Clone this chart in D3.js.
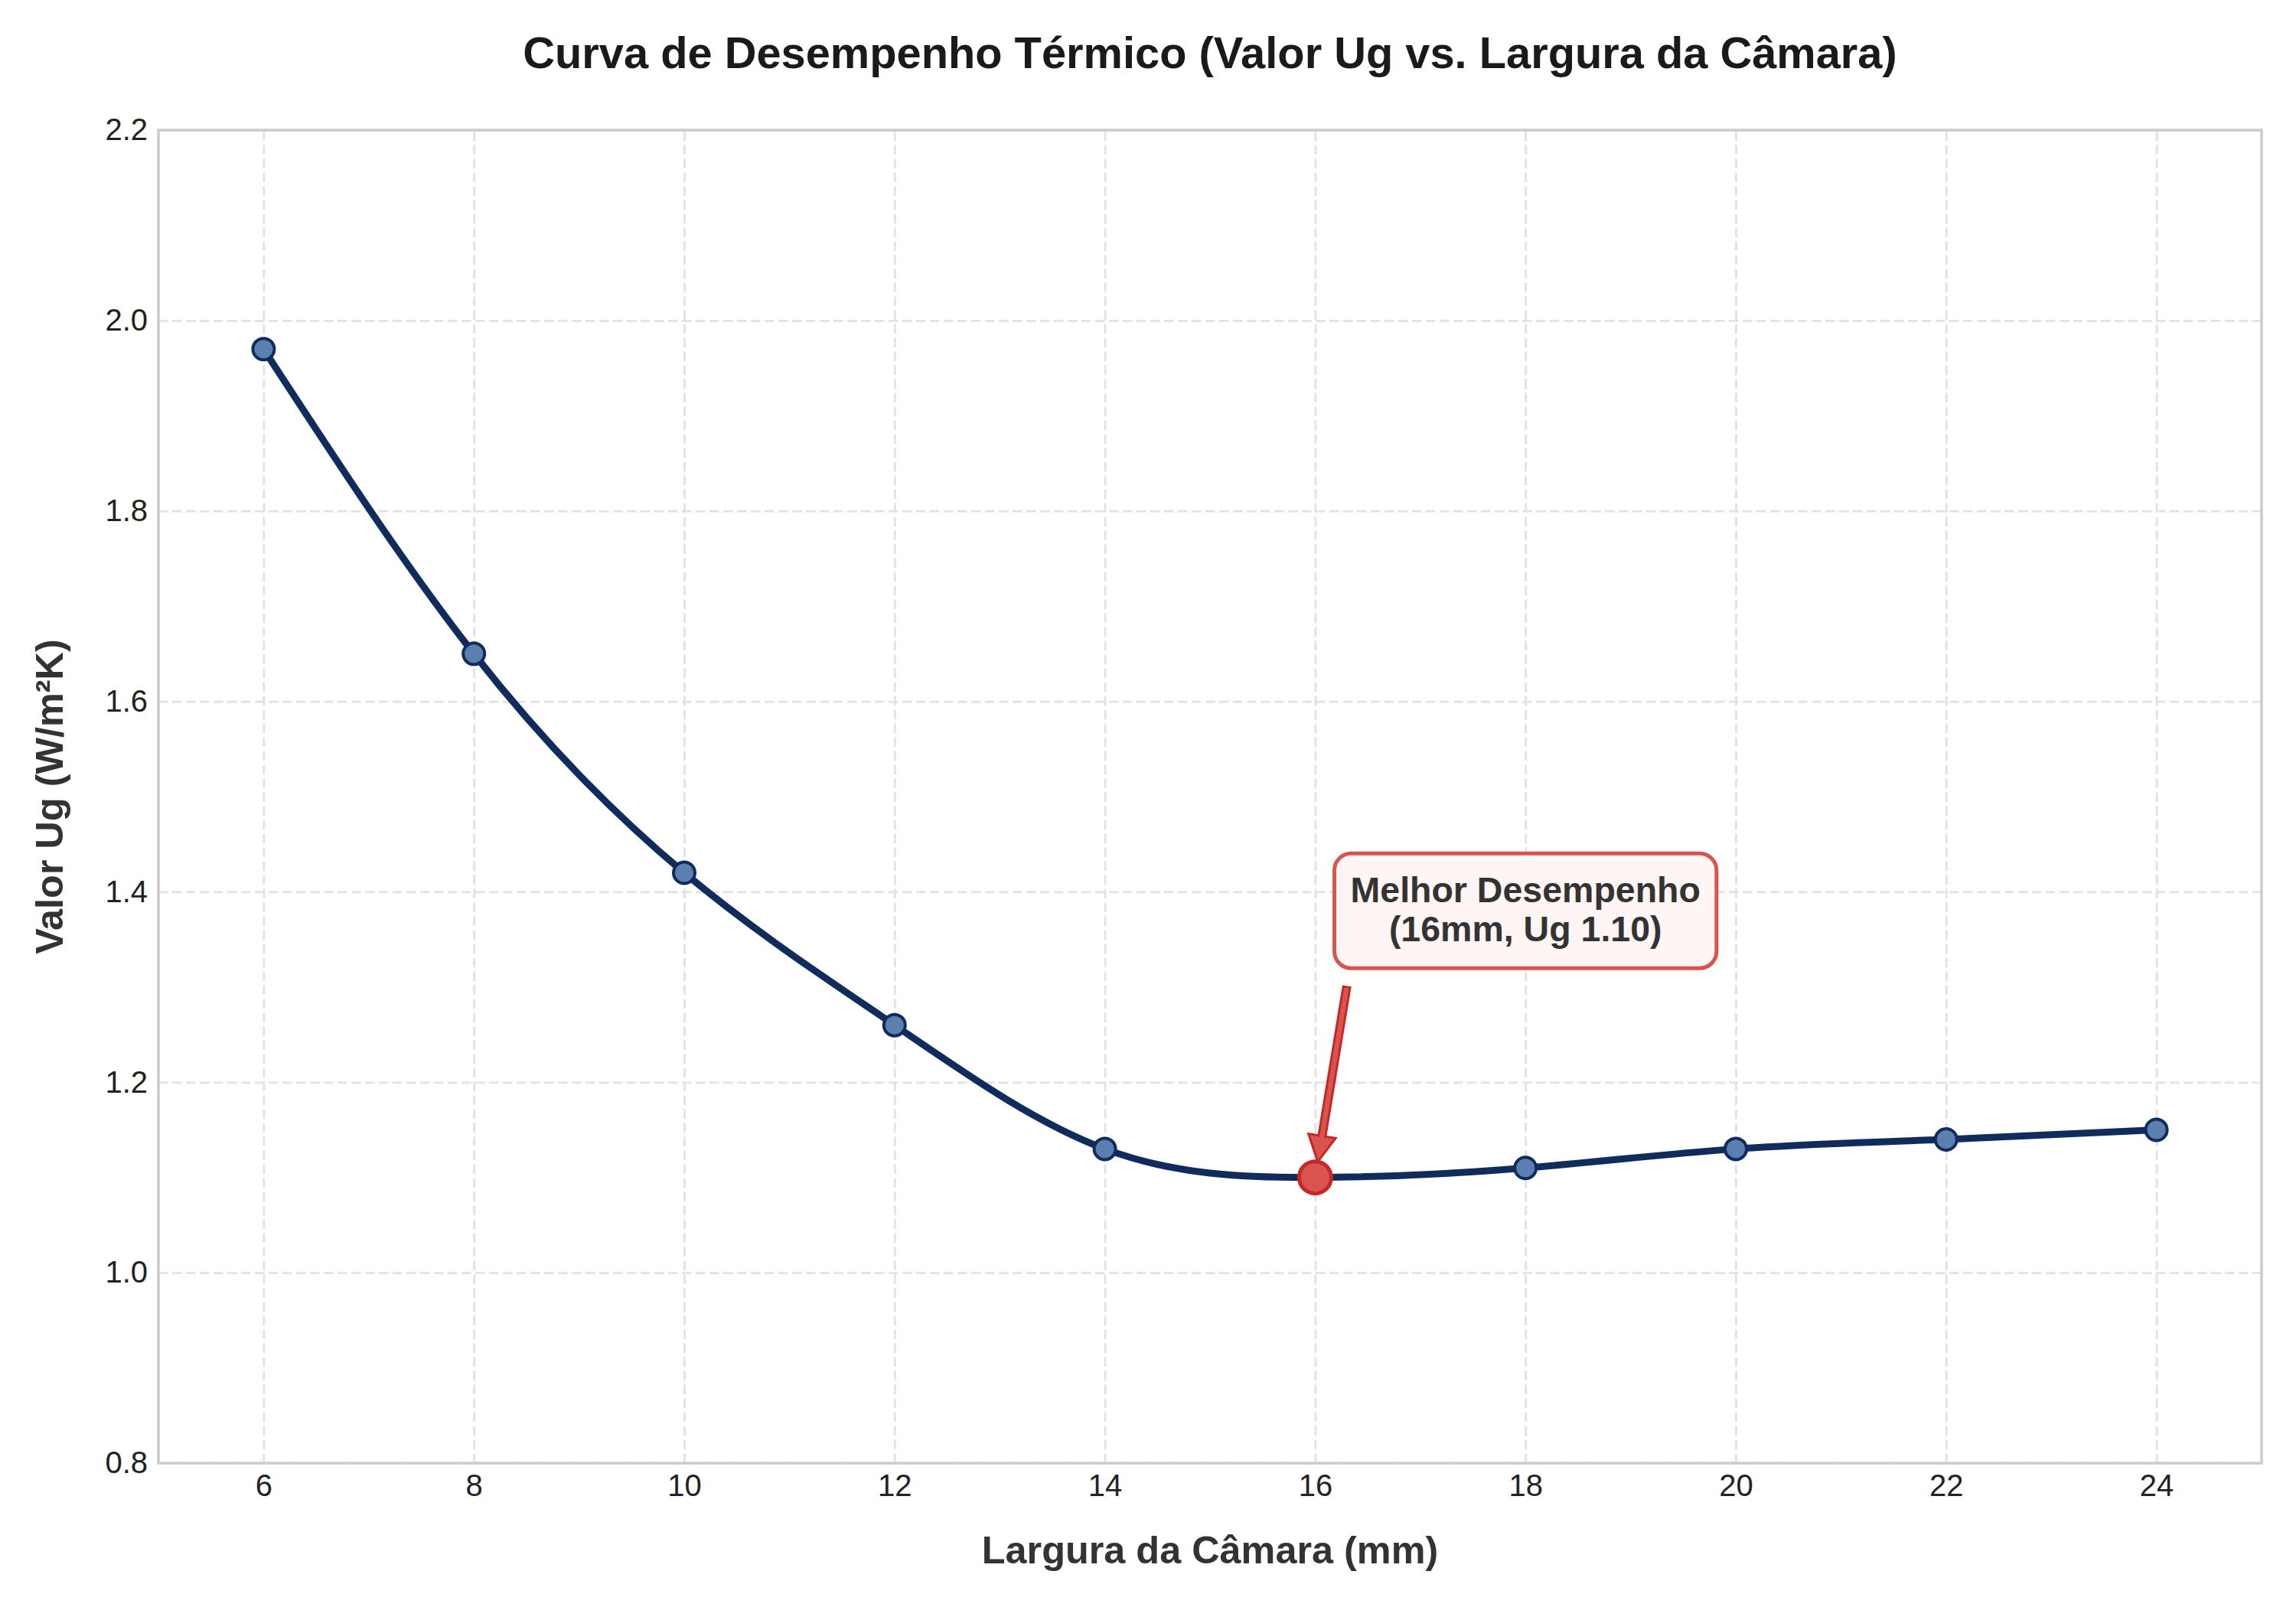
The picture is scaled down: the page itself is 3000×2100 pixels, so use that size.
<!DOCTYPE html>
<html>
<head>
<meta charset="utf-8">
<script src="https://cdn.jsdelivr.net/npm/d3@7"></script>
<style>
  body { margin: 0; background: #fff; }
  text { font-family: "Liberation Sans", Arial, sans-serif; }
</style>
</head>
<body>
<svg id="chart"></svg>
<script>
// data
const larguras = [6, 8, 10, 12, 14, 16, 18, 20, 22, 24];
const valoresUg = [1.97, 1.65, 1.42, 1.26, 1.13, 1.10, 1.11, 1.13, 1.14, 1.15];
const xTicks = [6, 8, 10, 12, 14, 16, 18, 20, 22, 24];
const yTicks = [0.8, 1.0, 1.2, 1.4, 1.6, 1.8, 2.0, 2.2];
const melhorIdx = 5;
const textoAnotacao = "Melhor Desempenho";
const posTexto = [18.0, 1.38];   // centre of the annotation box (data units)
const inicioSeta = [16.3, 1.30]; // arrow tail (data units)

const width = 3000, height = 2100;
const margin = {top: 170, right: 45, bottom: 188, left: 207};
const innerW = width - margin.left - margin.right;
const innerH = height - margin.top - margin.bottom;

const navy = "#0f2c5c";
const red = "#d9534f";
const darkRed = "#c62828";

const svg = d3.select("#chart")
  .attr("width", width)
  .attr("height", height);

const g = svg.append("g").attr("transform", `translate(${margin.left},${margin.top})`);

// scales
const xScale = d3.scaleLinear().domain([5, 25]).range([0, innerW]);
const yScale = d3.scaleLinear().domain([0.8, 2.2]).range([innerH, 0]);

// grid
const gridX = g.append("g").attr("transform", `translate(0,${innerH})`)
  .call(d3.axisBottom(xScale).tickValues(xTicks).tickSize(-innerH).tickFormat(""));
const gridY = g.append("g")
  .call(d3.axisLeft(yScale).tickValues(yTicks).tickSize(-innerW).tickFormat(""));
[gridX, gridY].forEach(gr => {
  gr.select(".domain").remove();
  gr.selectAll("line")
    .attr("stroke", "#e2e2e2")
    .attr("stroke-width", 2.8)
    .attr("stroke-dasharray", "12.5,5.5");
});

// frame
g.append("rect")
  .attr("width", innerW).attr("height", innerH)
  .attr("fill", "none").attr("stroke", "#cccccc").attr("stroke-width", 3.5);

// tick labels
const xAxis = g.append("g").attr("transform", `translate(0,${innerH})`)
  .call(d3.axisBottom(xScale).tickValues(xTicks).tickSize(0).tickPadding(15).tickFormat(d3.format("d")));
const yAxis = g.append("g")
  .call(d3.axisLeft(yScale).tickValues(yTicks).tickSize(0).tickPadding(14).tickFormat(d3.format(".1f")));
[xAxis, yAxis].forEach(ax => {
  ax.select(".domain").remove();
  ax.selectAll("text")
    .attr("font-size", 40)
    .attr("fill", "#222")
    .style("font-family", '"Liberation Sans", Arial, sans-serif');
});
xAxis.selectAll("text").attr("dy", "0.71em");

// curve
const pontos = larguras.map((x, i) => ({x: x, y: valoresUg[i]}));
const linha = d3.line()
  .x(d => xScale(d.x))
  .y(d => yScale(d.y))
  .curve(d3.curveNatural);

g.append("path")
  .datum(pontos)
  .attr("d", linha)
  .attr("fill", "none")
  .attr("stroke", navy)
  .attr("stroke-width", 9)
  .attr("stroke-linejoin", "round")
  .attr("stroke-linecap", "round");

// markers
g.selectAll(".ponto")
  .data(pontos.filter((d, i) => i !== melhorIdx))
  .enter()
  .append("circle")
  .attr("class", "ponto")
  .attr("cx", d => xScale(d.x))
  .attr("cy", d => yScale(d.y))
  .attr("r", 14)
  .attr("fill", "#5b7fae")
  .attr("stroke", navy)
  .attr("stroke-width", 4);

// highlighted best point
const melhor = pontos[melhorIdx];
g.append("circle")
  .attr("cx", xScale(melhor.x))
  .attr("cy", yScale(melhor.y))
  .attr("r", 21)
  .attr("fill", red)
  .attr("stroke", darkRed)
  .attr("stroke-width", 5);

// arrow
const x0 = xScale(inicioSeta[0]), y0 = yScale(inicioSeta[1]);
let x1 = xScale(melhor.x), y1 = yScale(melhor.y);
const dx = x1 - x0, dy = y1 - y0;
const len = Math.sqrt(dx * dx + dy * dy);
const ux = dx / len, uy = dy / len;
const px = -uy, py = ux;
x1 -= ux * 21; y1 -= uy * 21;
const headL = 34, headW = 18, shaftW = 4.5;
const bx = x1 - ux * headL, by = y1 - uy * headL;
const setaPts = [
  [x0 + px * shaftW, y0 + py * shaftW],
  [bx + px * shaftW, by + py * shaftW],
  [bx + px * headW, by + py * headW],
  [x1, y1],
  [bx - px * headW, by - py * headW],
  [bx - px * shaftW, by - py * shaftW],
  [x0 - px * shaftW, y0 - py * shaftW]
];
g.append("path")
  .attr("d", d3.line()(setaPts) + "Z")
  .attr("fill", red)
  .attr("stroke", darkRed)
  .attr("stroke-width", 3)
  .attr("stroke-linejoin", "miter");

// annotation box
const annot = g.append("g");
const tx = xScale(posTexto[0]), ty = yScale(posTexto[1]);
const linhas = [textoAnotacao, `(${melhor.x}mm, Ug ${melhor.y.toFixed(2)})`];
const box = annot.append("rect");
const txt = annot.append("text")
  .attr("text-anchor", "middle")
  .attr("font-size", 46.5)
  .attr("font-weight", "bold")
  .attr("fill", "#333");
linhas.forEach((l, i) => {
  txt.append("tspan")
    .attr("x", tx)
    .attr("y", ty - 11 + i * 51)
    .text(l);
});
const bb = txt.node().getBBox();
const pad = 21;
box.attr("x", bb.x - pad)
  .attr("y", ty - 75)
  .attr("width", bb.width + pad * 2)
  .attr("height", 150)
  .attr("rx", 22)
  .attr("fill", "#fff5f5")
  .attr("stroke", red)
  .attr("stroke-width", 5);

// title and axis labels
svg.append("text")
  .attr("x", margin.left + innerW / 2)
  .attr("y", 89)
  .attr("text-anchor", "middle")
  .attr("font-size", 57.8)
  .attr("font-weight", "bold")
  .attr("fill", "#1a1a1a")
  .text("Curva de Desempenho Térmico (Valor Ug vs. Largura da Câmara)");

svg.append("text")
  .attr("x", margin.left + innerW / 2)
  .attr("y", 2043)
  .attr("text-anchor", "middle")
  .attr("font-size", 50.4)
  .attr("font-weight", "bold")
  .attr("fill", "#333")
  .text("Largura da Câmara (mm)");

svg.append("text")
  .attr("transform", `translate(82,${margin.top + innerH / 2}) rotate(-90)`)
  .attr("text-anchor", "middle")
  .attr("font-size", 50.4)
  .attr("font-weight", "bold")
  .attr("fill", "#333")
  .text("Valor Ug (W/m²K)");
</script>
</body>
</html>
